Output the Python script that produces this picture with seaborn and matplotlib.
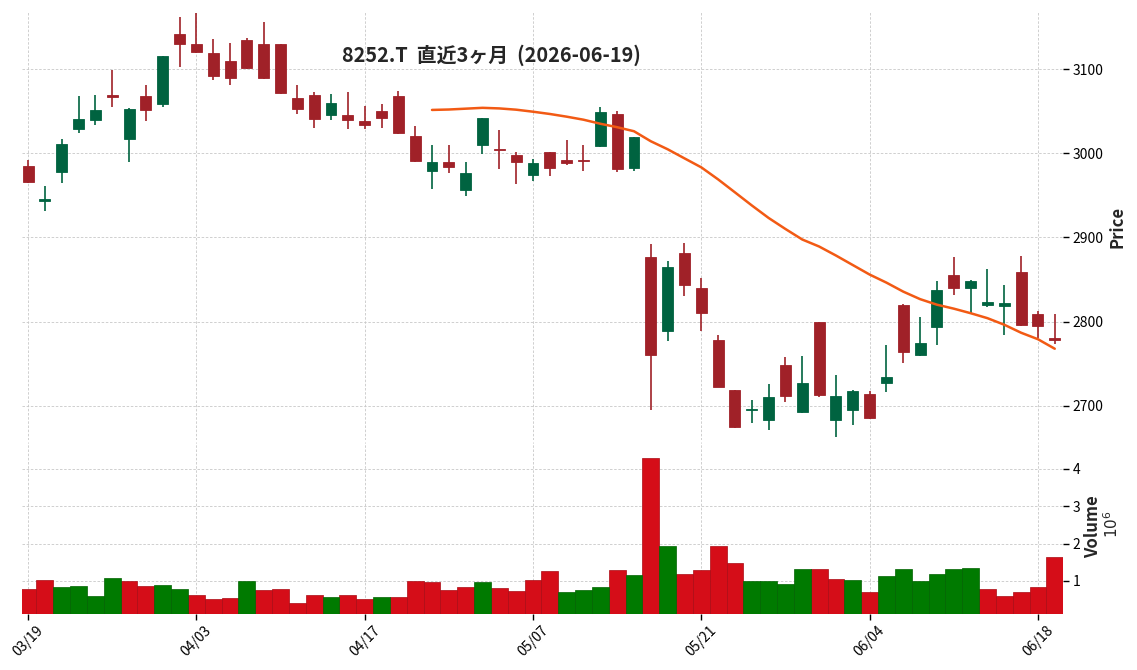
import numpy as np
import pandas as pd
import matplotlib
matplotlib.use("Agg")
import matplotlib.pyplot as plt
import seaborn as sns
from matplotlib.ticker import FixedLocator, FuncFormatter

# ---------------- data ----------------
dates = ["03/19", "03/23", "03/24", "03/25", "03/26", "03/27", "03/30", "03/31", "04/01", "04/02",
         "04/03", "04/06", "04/07", "04/08", "04/09", "04/10", "04/13", "04/14", "04/15", "04/16",
         "04/17", "04/20", "04/21", "04/22", "04/23", "04/24", "04/27", "04/28", "04/30", "05/01",
         "05/07", "05/08", "05/11", "05/12", "05/13", "05/14", "05/15", "05/18", "05/19", "05/20",
         "05/21", "05/22", "05/25", "05/26", "05/27", "05/28", "05/29", "06/01", "06/02", "06/03",
         "06/04", "06/05", "06/08", "06/09", "06/10", "06/11", "06/12", "06/15", "06/16", "06/17",
         "06/18", "06/19"]

opens = [2984.5, 2942.9, 2977.7, 3028.9, 3039.7, 3069.0, 3017.0, 3067.9, 3058.7, 3141.7,
         3130.1, 3119.0, 3109.5, 3134.5, 3129.8, 3129.8, 3065.5, 3069.0, 3045.6, 3045.2,
         3038.1, 3050.0, 3067.9, 3020.2, 2978.9, 2989.3, 2956.3, 3009.9, 3004.8, 2998.0,
         2974.2, 3001.2, 2991.7, 2991.7, 3008.7, 3046.4, 2982.1, 2877.4, 2788.5, 2882.0,
         2840.5, 2778.6, 2719.0, 2695.2, 2683.3, 2748.8, 2692.9, 2800.0, 2683.3, 2695.6,
         2714.3, 2727.4, 2820.2, 2760.7, 2794.0, 2856.0, 2839.7, 2819.4, 2819.0, 2859.5,
         2809.5, 2780.2]

highs = [2991.7, 2961.0, 3017.5, 3067.5, 3068.7, 3098.5, 3053.6, 3080.6, 3115.5, 3161.5,
         3166.7, 3135.4, 3131.0, 3136.5, 3155.6, 3130.0, 3080.6, 3073.0, 3069.9, 3072.3,
         3055.6, 3058.0, 3073.5, 3033.0, 3009.5, 3009.5, 2990.0, 3042.0, 3028.2, 3002.0,
         2992.9, 3001.2, 3016.3, 3009.9, 3054.8, 3050.0, 3019.0, 2891.7, 2872.3, 2893.7,
         2852.0, 2784.5, 2719.0, 2706.8, 2725.8, 2758.0, 2759.2, 2800.0, 2736.5, 2719.4,
         2718.2, 2772.3, 2821.4, 2805.6, 2848.5, 2876.6, 2849.0, 2862.7, 2843.7, 2878.2,
         2812.7, 2808.7]

lows = [2965.0, 2932.0, 2964.3, 3024.6, 3034.2, 3054.4, 2990.0, 3038.9, 3054.4, 3102.0,
        3119.5, 3086.5, 3080.6, 3100.5, 3088.5, 3071.0, 3046.4, 3029.8, 3040.1, 3029.4,
        3029.4, 3030.6, 3023.5, 2990.0, 2958.0, 2976.2, 2949.6, 2999.6, 2981.8, 2963.9,
        2967.5, 2973.0, 2986.0, 2979.4, 3008.0, 2977.7, 2978.9, 2694.9, 2777.0, 2830.6,
        2789.3, 2722.0, 2673.5, 2679.4, 2671.0, 2704.4, 2691.3, 2711.0, 2663.1, 2677.4,
        2684.0, 2716.3, 2750.8, 2758.7, 2772.3, 2831.8, 2809.2, 2817.5, 2784.2, 2795.0,
        2781.0, 2773.4]

closes = [2965.8, 2945.2, 3010.7, 3040.5, 3051.2, 3066.7, 3052.4, 3051.6, 3115.5, 3130.1,
          3120.6, 3092.0, 3089.6, 3101.5, 3089.6, 3071.8, 3052.7, 3041.3, 3059.5, 3039.7,
          3033.7, 3042.0, 3024.2, 2990.8, 2989.3, 2983.7, 2976.2, 3041.7, 3003.6, 2990.0,
          2989.0, 2982.5, 2988.0, 2990.8, 3048.8, 2981.3, 3019.0, 2761.0, 2865.5, 2843.2,
          2809.9, 2723.0, 2675.4, 2696.4, 2710.0, 2712.0, 2727.4, 2712.5, 2711.5, 2717.5,
          2685.7, 2734.5, 2764.3, 2775.0, 2838.1, 2839.7, 2848.8, 2823.8, 2822.6, 2796.0,
          2795.0, 2777.8]

volumes = [785000, 1026000, 840000, 865000, 597000, 1080000, 1000000, 865000, 890000, 785000,
           624000, 517000, 544000, 1000000, 758000, 785000, 410000, 624000, 570000, 624000,
           517000, 570000, 570000, 1000000, 970000, 758000, 840000, 970000, 810000, 730000,
           1026000, 1270000, 700000, 758000, 840000, 1290000, 1160000, 4290000, 1930000, 1190000,
           1290000, 1930000, 1480000, 1000000, 1000000, 920000, 1320000, 1320000, 1050000, 1030000,
           700000, 1130000, 1320000, 1000000, 1190000, 1320000, 1350000, 785000, 597000, 700000,
           840000, 1640000]

ma_start = 24
ma25 = [3051.5, 3052.0, 3053.0, 3054.0, 3053.3, 3051.8, 3049.4, 3046.7, 3043.5, 3039.9,
        3035.1, 3031.0, 3026.2, 3014.3, 3004.8, 2994.0, 2983.3, 2969.0, 2953.6, 2938.1,
        2923.2, 2910.1, 2897.6, 2889.3, 2878.6, 2867.3, 2856.0, 2846.4, 2835.7, 2826.8,
        2820.2, 2815.5, 2810.1, 2804.2, 2796.4, 2786.9, 2779.2, 2767.9]

title = "8252.T  直近3ヶ月  (2026-06-19)"
price_ticks = [2700, 2800, 2900, 3000, 3100]
vol_ticks = [1e6, 2e6, 3e6, 4e6]

# ---------------- styling ----------------
sns.set_theme(style="white")
plt.rcParams["font.family"] = ["Noto Sans CJK JP", "DejaVu Sans"]
plt.rcParams["axes.unicode_minus"] = False

UP_C, DN_C = "#006340", "#a02128"
VUP_C, VDN_C = "#007a00", "#d50d18"
GRID = dict(color="#c8c8c8", linestyle=(0, (3, 2)), linewidth=0.6)

n = len(dates)
idx = np.arange(n)
df = pd.DataFrame({"i": idx, "open": opens, "high": highs, "low": lows,
                   "close": closes, "volume": volumes})
df["cdir"] = np.where(df["close"] >= df["open"], "up", "down")
prev = df["close"].shift(1).fillna(df["open"])
df["vdir"] = np.where(df["close"] >= prev, "up", "down")

W, H = 1137, 670
fig = plt.figure(figsize=(W / 100, H / 100), dpi=100)
left, right = 22, 1063
ax1 = fig.add_axes([left / W, 1 - 440 / H, (right - left) / W, (440 - 11) / H])
ax2 = fig.add_axes([left / W, 1 - 613.7 / H, (right - left) / W, (613.7 - 442) / H], sharex=ax1)

# ---------------- candles ----------------
ccol = np.where(df["cdir"] == "up", UP_C, DN_C)
ax1.vlines(df["i"], df["low"], df["high"], colors=ccol, linewidth=1.2, zorder=2)
body_lo = np.minimum(df["open"], df["close"])
body_h = np.maximum(np.abs(df["close"] - df["open"]), 0.6)
ax1.bar(df["i"], body_h, bottom=body_lo, width=0.65, color=ccol, edgecolor=ccol,
        linewidth=0.6, zorder=3)

# moving average
sns.lineplot(x=idx[ma_start:ma_start + len(ma25)], y=ma25, ax=ax1, color="#f25a14",
             linewidth=1.8, zorder=4, sort=False)

# ---------------- volume ----------------
sns.barplot(data=df, x="i", y="volume", hue="vdir", palette={"up": VUP_C, "down": VDN_C},
            native_scale=True, width=1.0, dodge=False, legend=False, errorbar=None,
            saturation=1, linewidth=0.5, ax=ax2, zorder=3)
for p in ax2.patches:
    fc = p.get_facecolor()
    p.set_edgecolor(tuple(c * 0.8 for c in fc[:3]) + (1,))

# ---------------- axes ----------------
ax1.set_xlim(-0.36, 61.49)
ax1.set_ylim(2659.5, 3169)
ax2.set_ylim(0.3 * min(volumes), 1.1 * max(volumes))

for ax in (ax1, ax2):
    for s in ax.spines.values():
        s.set_visible(False)
    ax.grid(True, **GRID)
    ax.set_axisbelow(True)
    ax.yaxis.tick_right()
    ax.tick_params(axis="y", which="both", left=False, right=True, length=4, width=1,
                   color="black", labelsize=10, labelcolor="black", pad=3)
    ax.set_xlabel("")
    ax.set_ylabel("")

tick_pos = list(range(0, n, 10))
ax2.xaxis.set_major_locator(FixedLocator(tick_pos))
ax2.xaxis.set_major_formatter(FuncFormatter(lambda v, p: dates[int(round(v))] if 0 <= int(round(v)) < n else ""))
ax1.tick_params(axis="x", bottom=False, labelbottom=False)
ax2.tick_params(axis="x", bottom=True, length=4, width=1, color="black", labelsize=10,
                labelcolor="black", pad=3)
for lab in ax2.get_xticklabels():
    lab.set_rotation(45)
    lab.set_ha("center")

ax1.yaxis.set_major_locator(FixedLocator(price_ticks))
ax1.yaxis.set_major_formatter(FuncFormatter(lambda v, p: f"{v:.0f}"))
ax2.yaxis.set_major_locator(FixedLocator(vol_ticks))
ax2.yaxis.set_major_formatter(FuncFormatter(lambda v, p: f"{v / 1e6:.0f}"))

# ---------------- texts ----------------
fig.text(491 / W, 1 - 55 / H, title, ha="center", va="center", fontsize=14.3, fontweight="bold")
fig.text(1118 / W, 1 - 227 / H, "Price", rotation=90, ha="center", va="center",
         fontsize=12, fontweight="bold")
fig.text(1093 / W, 1 - 527 / H, "Volume", rotation=90, ha="center", va="center",
         fontsize=12, fontweight="bold")
fig.text(1113 / W, 1 - 524 / H, r"$10^6$", rotation=90, ha="center", va="center", fontsize=11)

fig.savefig("out.png", dpi=100)
